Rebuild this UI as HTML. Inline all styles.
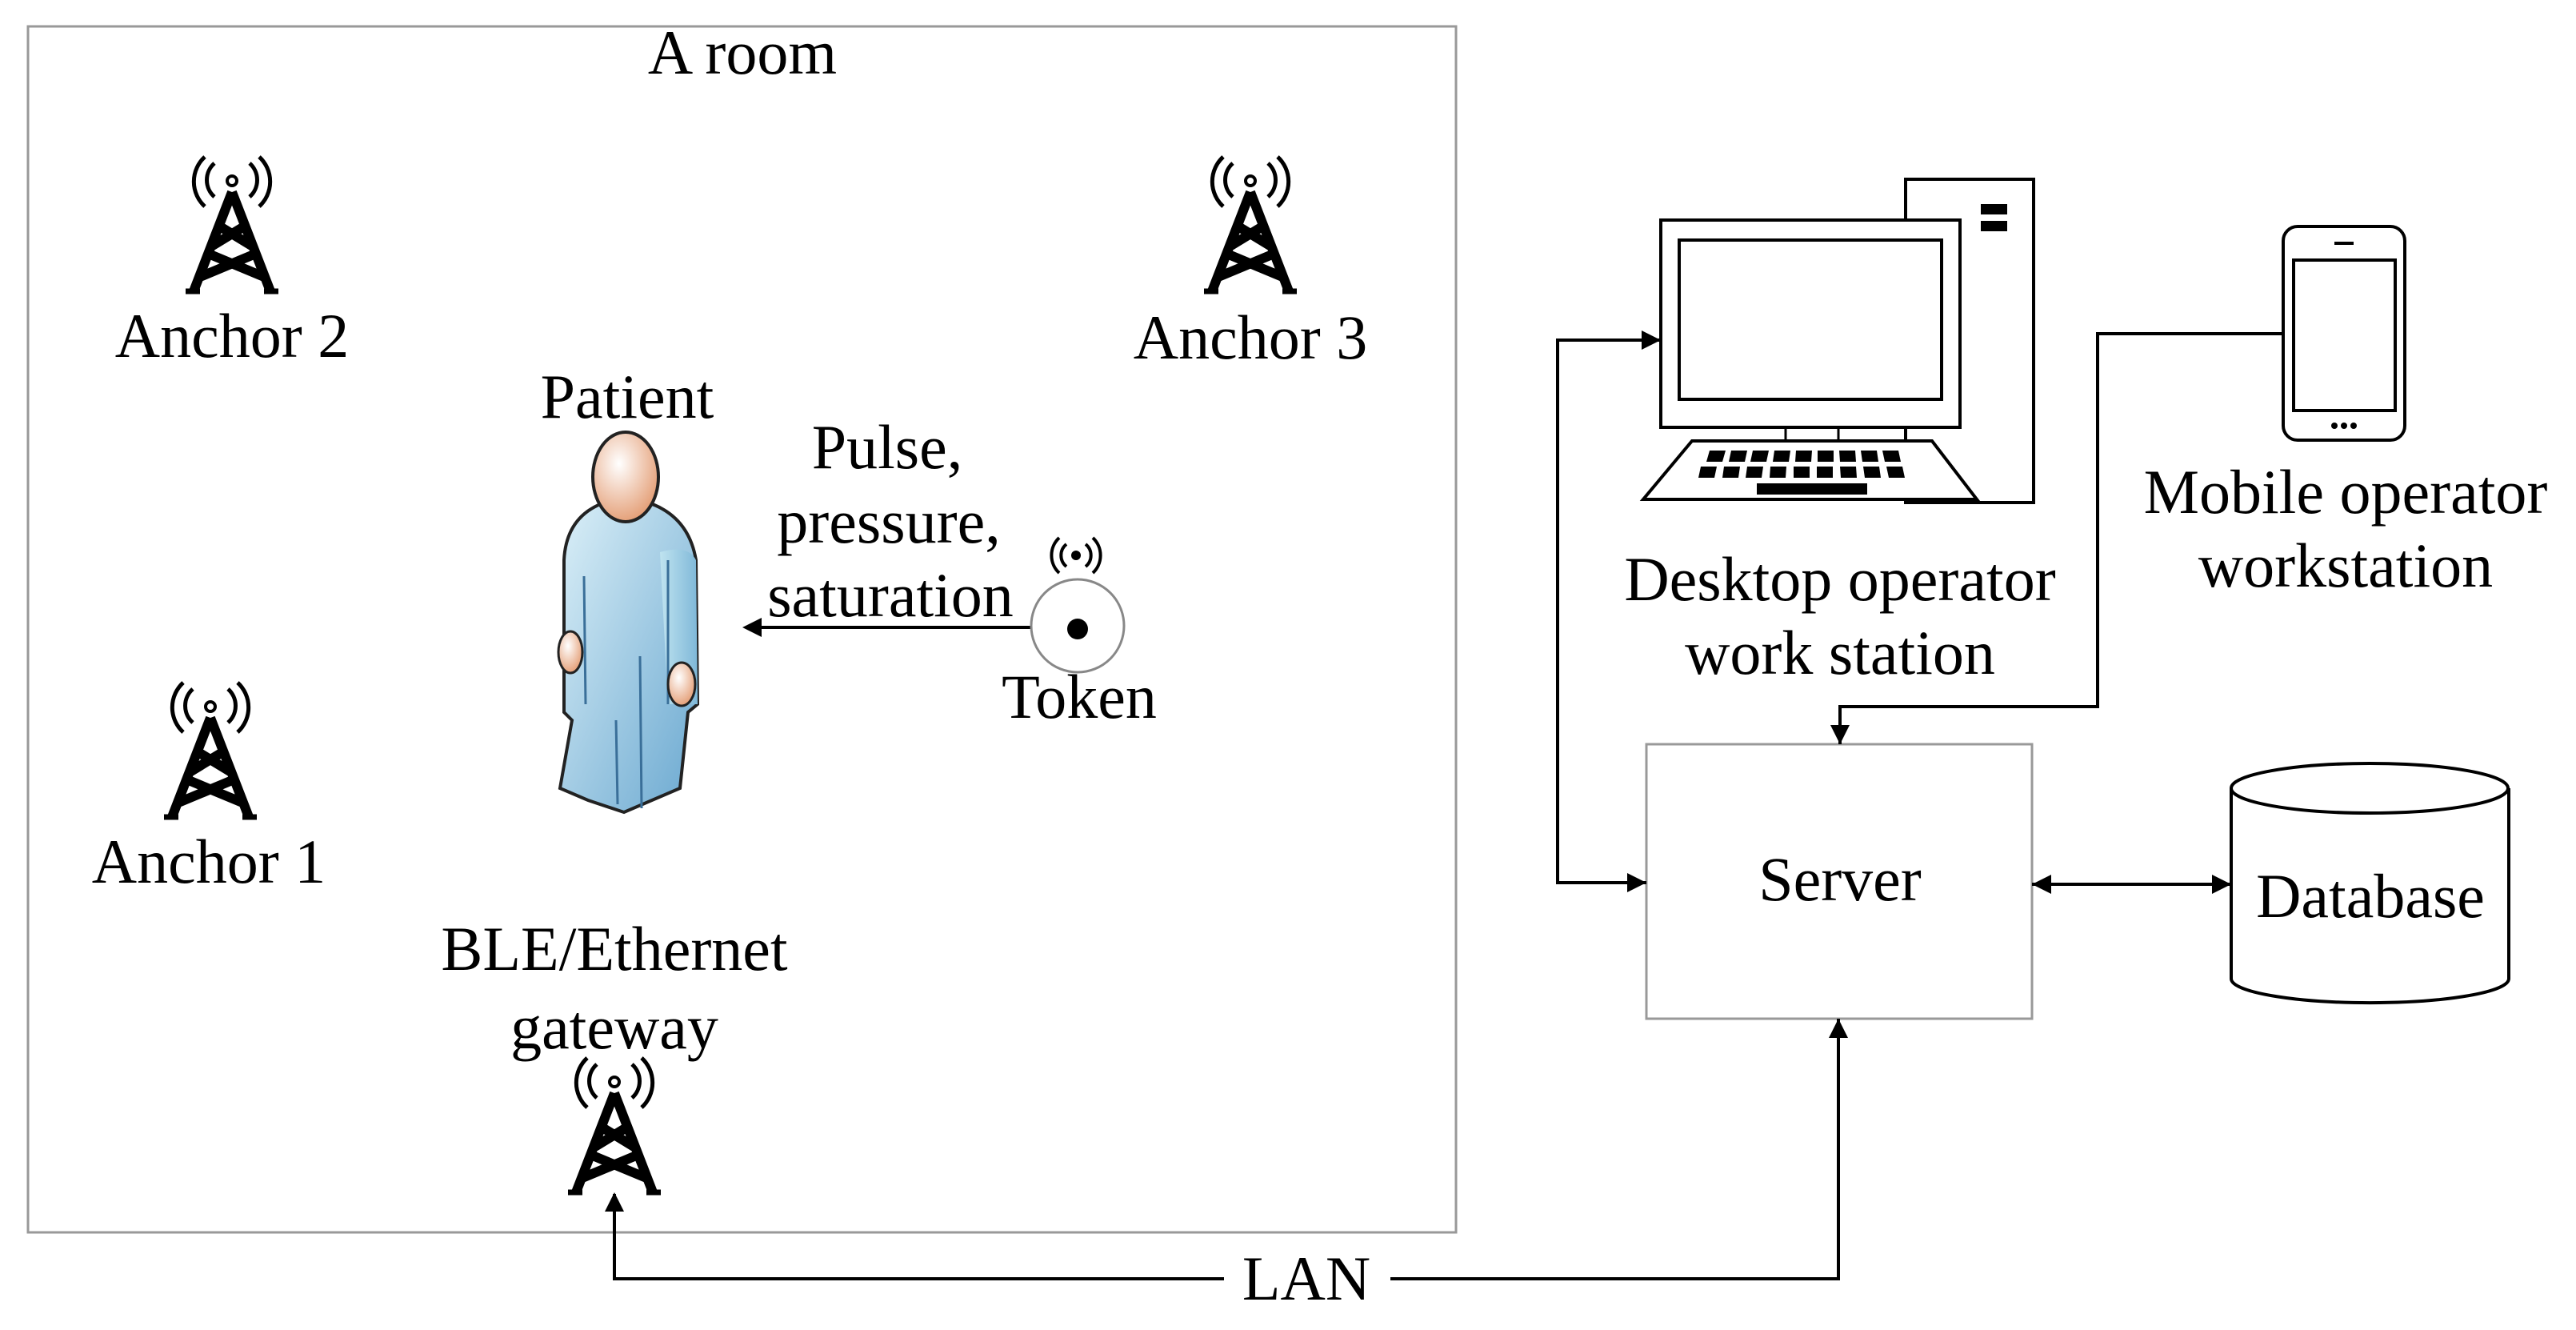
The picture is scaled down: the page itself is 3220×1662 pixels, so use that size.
<!DOCTYPE html>
<html><head><meta charset="utf-8"><style>
html,body{margin:0;padding:0;background:#fff;}
svg{display:block;}
text{font-family:"Liberation Serif",serif;font-size:78px;fill:#000;text-anchor:middle;}
</style></head><body>
<svg width="3220" height="1662" viewBox="0 0 3220 1662" xmlns="http://www.w3.org/2000/svg">
<defs>
<g id="tower">
 <g transform="translate(0,10)">
  <path d="M-22,-2 A28,28 0 0 0 -22,40" fill="none" stroke="#000" stroke-width="5"/>
  <path d="M22,-2 A28,28 0 0 1 22,40" fill="none" stroke="#000" stroke-width="5"/>
  <path d="M-34,-10 A42,42 0 0 0 -34,52" fill="none" stroke="#000" stroke-width="5"/>
  <path d="M34,-10 A42,42 0 0 1 34,52" fill="none" stroke="#000" stroke-width="5"/>
  <circle cx="0" cy="20" r="6" fill="none" stroke="#000" stroke-width="4"/>
 </g>
  <path d="M0,44 L-48,168 M0,44 L48,168 M-20,84 L26,112 M20,84 L-26,112 M-32,120 L40,150 M32,120 L-40,150" stroke="#000" stroke-width="12" fill="none"/>
  <path d="M-58,168 L-40,168 M40,168 L58,168" stroke="#000" stroke-width="7"/>
</g>
<linearGradient id="body" x1="0" y1="0" x2="1" y2="1">
  <stop offset="0" stop-color="#dcf0f8"/><stop offset="1" stop-color="#6aa8d0"/>
</linearGradient>
<linearGradient id="arm" x1="0" y1="0" x2="1" y2="0">
  <stop offset="0" stop-color="#bfe3f0"/><stop offset="1" stop-color="#7fb8d8"/>
</linearGradient>
<radialGradient id="skin" cx="0.4" cy="0.35" r="0.7">
  <stop offset="0" stop-color="#fff"/><stop offset="1" stop-color="#e39a70"/>
</radialGradient>
</defs>

<rect x="35" y="33" width="1785" height="1507" fill="none" stroke="#999" stroke-width="3"/>
<text x="928" y="92">A room</text>

<use href="#tower" x="290" y="196"/>
<use href="#tower" x="1563" y="196"/>
<use href="#tower" x="263" y="853"/>
<use href="#tower" x="768" y="1322"/>

<text x="290" y="446">Anchor 2</text>
<text x="1563" y="448">Anchor 3</text>
<text x="261" y="1103">Anchor 1</text>
<text x="768" y="1212">BLE/Ethernet</text>
<text x="768" y="1310">gateway</text>
<text x="784" y="522">Patient</text>
<text x="1109" y="585">Pulse,</text>
<text x="1111" y="678">pressure,</text>
<text x="1113" y="770">saturation</text>
<text x="1349" y="897">Token</text>

<!-- patient -->
<path d="M705,700 Q708,640 765,625 L800,625 Q860,640 870,700 L872,880 L860,890 L850,985 L780,1015 L735,1000 L700,985 L715,900 L705,890 Z" fill="url(#body)" stroke="#222" stroke-width="4"/>
<path d="M825,690 Q860,680 870,700 L872,880 L835,880 Z" fill="url(#arm)" stroke="none"/>
<path d="M730,720 L732,880 M800,820 L802,1010 M770,900 L772,1005 M835,700 L835,880" stroke="#3a6f99" stroke-width="3" fill="none"/>
<ellipse cx="713" cy="815" rx="15" ry="26" fill="url(#skin)" stroke="#222" stroke-width="3"/>
<ellipse cx="852" cy="855" rx="17" ry="27" fill="url(#skin)" stroke="#222" stroke-width="3"/>
<rect x="760" y="612" width="38" height="22" fill="#6aa8d0"/>
<ellipse cx="782" cy="596" rx="41" ry="56" fill="url(#skin)" stroke="#222" stroke-width="4"/>

<!-- token -->
<line x1="1290" y1="784" x2="950" y2="784" stroke="#000" stroke-width="4"/>
<polygon points="928,784 952,772 952,796" fill="#000"/>
<circle cx="1347" cy="782" r="58" fill="#fff" stroke="#888" stroke-width="3"/>
<circle cx="1347" cy="786" r="13" fill="#000"/>
<circle cx="1345" cy="694" r="6" fill="#000"/>
<path d="M1333,680 A18,18 0 0 0 1333,708 M1357,680 A18,18 0 0 1 1357,708" fill="none" stroke="#000" stroke-width="4"/>
<path d="M1324,672 A30,30 0 0 0 1324,716 M1366,672 A30,30 0 0 1 1366,716" fill="none" stroke="#000" stroke-width="4"/>

<!-- computer -->
<rect x="2382" y="224" width="160" height="404" fill="#fff" stroke="#000" stroke-width="4"/>
<rect x="2476" y="255" width="33" height="13" fill="#000"/>
<rect x="2476" y="276" width="33" height="13" fill="#000"/>
<rect x="2076" y="275" width="374" height="259" fill="#fff" stroke="#000" stroke-width="4"/>
<rect x="2099" y="300" width="328" height="199" fill="#fff" stroke="#000" stroke-width="4"/>
<path d="M2232,534 V551 M2298,534 V551 M2382,534 V551" stroke="#000" stroke-width="3"/>
<polygon points="2115,551 2415,551 2471,624 2054,624" fill="#fff" stroke="#000" stroke-width="4"/>
<g fill="#000">
<path d="M2137,563h20l-4,14h-20z M2164,563h20l-3,14h-20z M2191,563h20l-3,14h-20z M2218,563h20l-2,14h-20z M2245,563h20l-1,14h-20z M2272,563h20v14h-20z M2299,563h20l1,14h-20z M2326,563h20l2,14h-20z M2353,563h20l3,14h-20z"/>
<path d="M2126,583h20l-3,14h-20z M2155,583h20l-2,14h-20z M2184,583h20l-2,14h-20z M2213,583h20l-1,14h-20z M2242,583h20v14h-20z M2271,583h20v14h-20z M2300,583h20l1,14h-20z M2329,583h20l2,14h-20z M2358,583h20l3,14h-20z"/>
<rect x="2196" y="604" width="138" height="14"/>
</g>

<!-- phone -->
<rect x="2854" y="283" width="152" height="267" rx="18" fill="#fff" stroke="#000" stroke-width="4"/>
<rect x="2867" y="325" width="127" height="188" fill="#fff" stroke="#000" stroke-width="4"/>
<line x1="2918" y1="304" x2="2942" y2="304" stroke="#000" stroke-width="4"/>
<circle cx="2918" cy="532" r="4" fill="#000"/><circle cx="2930" cy="532" r="4" fill="#000"/><circle cx="2942" cy="532" r="4" fill="#000"/>

<text x="2300" y="750">Desktop operator</text>
<text x="2300" y="842">work station</text>
<text x="2932" y="641">Mobile operator</text>
<text x="2932" y="733">workstation</text>

<rect x="2058" y="930" width="482" height="343" fill="#fff" stroke="#999" stroke-width="3"/>
<text x="2300" y="1125">Server</text>
<path d="M2789,985 V1223 A173,30 0 0 0 3136,1223 V985" fill="#fff" stroke="#000" stroke-width="4"/>
<ellipse cx="2962" cy="985" rx="173" ry="31" fill="#fff" stroke="#000" stroke-width="4"/>
<text x="2963" y="1146">Database</text>

<g stroke="#000" stroke-width="4" fill="none">
<path d="M2058,1103 H1947 V425 H2076"/>
<path d="M2854,417 H2622 V883 H2300 V930"/>
<path d="M2540,1105 H2789"/>
<path d="M768,1492 V1598 H1530 M1738,1598 H2298 V1273"/>
</g>
<g fill="#000">
<polygon points="2076,425 2052,413 2052,437"/>
<polygon points="2058,1103 2034,1091 2034,1115"/>
<polygon points="2300,930 2288,906 2312,906"/>
<polygon points="2540,1105 2564,1093 2564,1117"/>
<polygon points="2789,1105 2765,1093 2765,1117"/>
<polygon points="2298,1273 2286,1297 2310,1297"/>
<polygon points="768,1490 756,1514 780,1514"/>
</g>
<text x="1633" y="1624">LAN</text>
</svg>
</body></html>
